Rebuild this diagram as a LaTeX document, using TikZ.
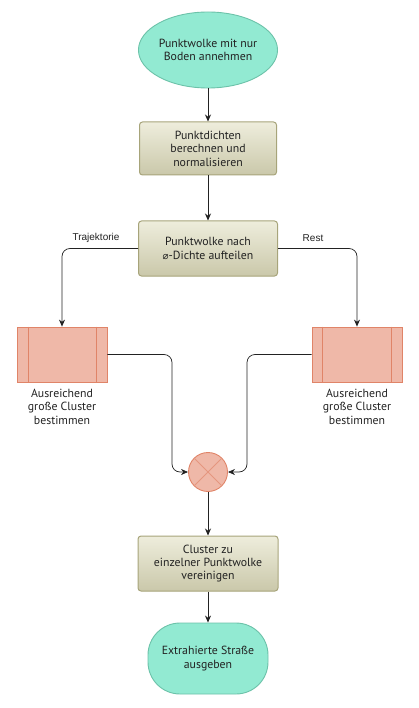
\documentclass[tikz,border=0pt]{standalone}
\usepackage{fontspec}
\setmainfont{PT Sans}
\newfontfamily\symfont{DejaVu Sans}
\newfontfamily\edgefont{Liberation Sans}
\usepackage{tikz}
\usetikzlibrary{arrows.meta,positioning,shapes.geometric}

\definecolor{mint}{HTML}{92EAD2}
\definecolor{mintline}{HTML}{6CC2A9}
\definecolor{boxtop}{HTML}{EEEDDC}
\definecolor{boxbot}{HTML}{CAC8AA}
\definecolor{boxline}{HTML}{A7A47A}
\definecolor{rose}{HTML}{EFB8A8}
\definecolor{roseline}{HTML}{E08468}
\definecolor{ink}{HTML}{222222}

\begin{document}
\begin{tikzpicture}[x=1pt,y=-1pt,
  txt/.style={text=ink,align=center,font=\fontsize{11.8}{13.4}\selectfont},
  terminal/.style={txt,ellipse,draw=mintline,fill=mint,line width=0.9pt,inner sep=0pt},
  stadium/.style={txt,rectangle,draw=mintline,fill=mint,line width=0.9pt,rounded corners=32pt,inner sep=0pt},
  process/.style={txt,rectangle,draw=boxline,top color=boxtop,bottom color=boxbot,line width=1pt,rounded corners=3pt,inner sep=0pt,minimum height=54pt},
  cluster/.style={rectangle,draw=roseline,fill=rose,line width=0.8pt,minimum width=90pt,minimum height=55pt},
  merge/.style={circle,draw=roseline,fill=rose,line width=0.9pt,minimum size=39pt,inner sep=0pt},
  arr/.style={draw=ink,line width=0.7pt,-{Stealth[length=7pt,width=6pt]}},
  edgelbl/.style={text=ink,font=\edgefont\fontsize{10}{12}\selectfont}
]
\useasboundingbox (0,0) rectangle (419,708);

% main column
\node[terminal,minimum width=126pt,minimum height=76pt] (start) at (208,50) {Punktwolke mit nur\\Boden annehmen};
\node[process,minimum width=137pt,minimum height=53pt] (dens) at (208,148.5) {Punktdichten\\berechnen und\\normalisieren};
\node[process,minimum width=139pt,minimum height=55pt] (split) at (208,248.5) {Punktwolke nach\\{\symfont\fontsize{10}{12}\selectfont ⌀}-Dichte aufteilen};

% both branches
\node[cluster] (trj) at (62,354.5) {};
\node[cluster] (rst) at (357,354.5) {};
\draw[roseline,line width=0.8pt] ([xshift=12pt]trj.north west) -- ([xshift=12pt]trj.south west);
\draw[roseline,line width=0.8pt] ([xshift=-11pt]trj.north east) -- ([xshift=-11pt]trj.south east);
\draw[roseline,line width=0.8pt] ([xshift=11pt]rst.north west) -- ([xshift=11pt]rst.south west);
\draw[roseline,line width=0.8pt] ([xshift=-11pt]rst.north east) -- ([xshift=-11pt]rst.south east);
\node[txt,below=3pt of trj] (trjtxt) {Ausreichend\\große Cluster\\bestimmen};
\node[txt,below=3pt of rst] (rsttxt) {Ausreichend\\große Cluster\\bestimmen};

% join
\node[merge] (join) at (208,472) {};
\draw[roseline!85!white,line width=1pt] (join.north west) -- (join.south east);
\draw[roseline!85!white,line width=1pt] (join.north east) -- (join.south west);
\coordinate (jl) at (172,472);
\coordinate (jr) at (247,472);

\node[process,minimum width=140pt,minimum height=55pt] (unite) at (208,563.5) {Cluster zu\\einzelner Punktwolke\\vereinigen};
\node[stadium,minimum width=120pt,minimum height=71pt] (stop) at (208,658.5) {Extrahierte Straße\\ausgeben};

% connectors
\draw[arr] (start) -- (dens);
\draw[arr] (dens) -- (split);
\draw[arr,rounded corners=8pt] (split.west) -| (trj.north);
\draw[arr,rounded corners=8pt] (split.east) -| (rst.north);
\node[edgelbl] (ltrj) at (96,238) {Trajektorie};
\node[edgelbl] (lrst) at (313,238) {Rest};
\draw[arr,rounded corners=8pt] (trj.east) -| (jl) -- (join.west);
\draw[arr,rounded corners=8pt] (rst.west) -| (jr) -- (join.east);
\draw[arr] (join) -- (unite);
\draw[arr] (unite) -- (stop);

\end{tikzpicture}
\end{document}
